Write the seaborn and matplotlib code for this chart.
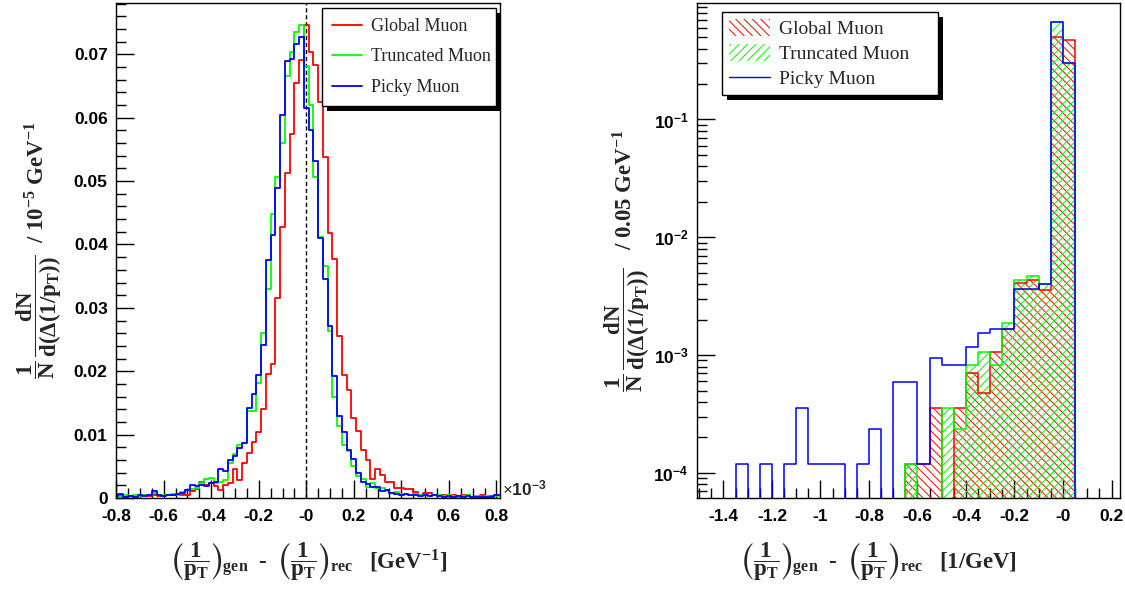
import numpy as np
import pandas as pd
import matplotlib
matplotlib.use("Agg")
import matplotlib.pyplot as plt
import seaborn as sns
from matplotlib.lines import Line2D
from matplotlib.patches import Patch, Rectangle
from matplotlib.transforms import IdentityTransform
from matplotlib.ticker import FixedLocator, FixedFormatter, MultipleLocator, LogLocator, NullFormatter

# ---------------------------------------------------------------- data
# Left: resolution in units of 1e-3 GeV^-1, bins of 0.02 centred on -0.80 ... 0.80
left_edges = list(np.round(np.linspace(-0.81, 0.81, 82), 4))
left_centers = 0.5 * (np.array(left_edges[:-1]) + np.array(left_edges[1:]))

global_left = [
    0.0002, 0.0003, 0.0002, 0.0003, 0.0002, 0.0003, 0.0004, 0.0003, 0.0004, 0.0003,
    0.0004, 0.0004, 0.0005, 0.0006, 0.0004, 0.0005, 0.0011, 0.0014, 0.0026, 0.0021,
    0.0024, 0.0019, 0.0012, 0.0021, 0.0024, 0.0045, 0.0029, 0.0055, 0.0071, 0.0089,
    0.0104, 0.0140, 0.0195, 0.0211, 0.0315, 0.0428, 0.0512, 0.0575, 0.0654, 0.0691,
    0.0746,
    0.0703, 0.0683, 0.0625, 0.0538, 0.0418, 0.0377, 0.0256, 0.0194, 0.0170, 0.0126,
    0.0105, 0.0075, 0.0060, 0.0030, 0.0045, 0.0037, 0.0026, 0.0025, 0.0016, 0.0016,
    0.0014, 0.0014, 0.0009, 0.0005, 0.0008, 0.0008, 0.0004, 0.0005, 0.0004, 0.0003,
    0.0004, 0.0003, 0.0005, 0.0004, 0.0002, 0.0003, 0.0004, 0.0002, 0.0003, 0.0004,
]
truncated_left = [
    0.0003, 0.0002, 0.0004, 0.0003, 0.0004, 0.0003, 0.0005, 0.0004, 0.0008, 0.0004,
    0.0005, 0.0004, 0.0006, 0.0005, 0.0009, 0.0012, 0.0014, 0.0016, 0.0024, 0.0030,
    0.0032, 0.0024, 0.0026, 0.0029, 0.0055, 0.0070, 0.0084, 0.0087, 0.0138, 0.0138,
    0.0181, 0.0261, 0.0330, 0.0448, 0.0507, 0.0560, 0.0666, 0.0704, 0.0735, 0.0747,
    0.0682,
    0.0620, 0.0506, 0.0412, 0.0366, 0.0264, 0.0160, 0.0113, 0.0083, 0.0074, 0.0050,
    0.0034, 0.0030, 0.0018, 0.0023, 0.0016, 0.0015, 0.0011, 0.0008, 0.0009, 0.0006,
    0.0006, 0.0005, 0.0006, 0.0004, 0.0005, 0.0003, 0.0004, 0.0004, 0.0003, 0.0004,
    0.0003, 0.0002, 0.0003, 0.0004, 0.0002, 0.0003, 0.0002, 0.0003, 0.0002, 0.0003,
]
picky_left = [
    0.0003, 0.0006, 0.0002, 0.0003, 0.0002, 0.0004, 0.0003, 0.0004, 0.0011, 0.0004,
    0.0003, 0.0005, 0.0004, 0.0006, 0.0008, 0.0012, 0.0021, 0.0019, 0.0021, 0.0019,
    0.0024, 0.0025, 0.0045, 0.0042, 0.0060, 0.0067, 0.0079, 0.0087, 0.0142, 0.0164,
    0.0194, 0.0242, 0.0376, 0.0415, 0.0489, 0.0604, 0.0690, 0.0692, 0.0717, 0.0728,
    0.0615,
    0.0581, 0.0531, 0.0411, 0.0345, 0.0272, 0.0193, 0.0130, 0.0104, 0.0075, 0.0061,
    0.0039, 0.0025, 0.0022, 0.0017, 0.0017, 0.0011, 0.0012, 0.0008, 0.0007, 0.0005,
    0.0006, 0.0004, 0.0005, 0.0003, 0.0004, 0.0003, 0.0004, 0.0003, 0.0002, 0.0003,
    0.0002, 0.0003, 0.0002, 0.0003, 0.0002, 0.0002, 0.0001, 0.0002, 0.0001, 0.0004,
]

# Right: resolution in GeV^-1, bins of 0.05 from -1.50 to 0.25
right_edges = list(np.round(np.linspace(-1.5, 0.25, 36), 4))
right_centers = 0.5 * (np.array(right_edges[:-1]) + np.array(right_edges[1:]))

global_right = [
    0, 0, 0, 0, 0, 0, 0, 0, 0, 0,
    0, 0, 0, 0, 0, 0, 0, 1.18e-4, 1.18e-4, 3.54e-4,
    0, 3.54e-4, 7.08e-4, 4.72e-4, 1.06e-3, 1.65e-3, 4.13e-3, 4.37e-3, 3.54e-3, 0.500,
    0.469, 0, 0, 0, 0,
]
truncated_right = [
    0, 0, 0, 0, 0, 0, 0, 0, 0, 0,
    0, 0, 0, 0, 0, 0, 0, 1.18e-4, 0, 0,
    3.54e-4, 2.36e-4, 8.26e-4, 1.06e-3, 8.26e-4, 1.89e-3, 4.37e-3, 4.72e-3, 4.01e-3, 0.671,
    0.300, 0, 0, 0, 0,
]
picky_right = [
    0, 0, 0, 1.18e-4, 0, 1.18e-4, 0, 1.18e-4, 3.54e-4, 1.18e-4,
    1.18e-4, 1.18e-4, 0, 1.18e-4, 2.36e-4, 0, 5.90e-4, 5.90e-4, 1.18e-4, 9.44e-4,
    8.26e-4, 8.26e-4, 1.18e-3, 1.53e-3, 1.65e-3, 1.65e-3, 3.66e-3, 3.66e-3, 4.01e-3, 0.671,
    0.300, 0, 0, 0, 0,
]

series_names = ["Global Muon", "Truncated Muon", "Picky Muon"]

left_xticks = [-0.8, -0.6, -0.4, -0.2, 0.0, 0.2, 0.4, 0.6, 0.8]
left_xticklabels = ["-0.8", "-0.6", "-0.4", "-0.2", "-0", "0.2", "0.4", "0.6", "0.8"]
left_yticks = [0.0, 0.01, 0.02, 0.03, 0.04, 0.05, 0.06, 0.07]
left_yticklabels = ["0", "0.01", "0.02", "0.03", "0.04", "0.05", "0.06", "0.07"]
right_xticks = [-1.4, -1.2, -1.0, -0.8, -0.6, -0.4, -0.2, 0.0, 0.2]
right_xticklabels = ["-1.4", "-1.2", "-1", "-0.8", "-0.6", "-0.4", "-0.2", "-0", "0.2"]
right_yticks = [1e-4, 1e-3, 1e-2, 1e-1]
right_yticklabels = [r"$\mathsf{10^{-4}}$", r"$\mathsf{10^{-3}}$",
                     r"$\mathsf{10^{-2}}$", r"$\mathsf{10^{-1}}$"]

# ---------------------------------------------------------------- style
RED, GREEN, BLUE = "#ff0000", "#00ff00", "#0000ff"
colors = [RED, GREEN, BLUE]

sns.set_theme(style="ticks")
plt.rcParams.update({
    "font.family": ["Liberation Sans", "DejaVu Sans"],
    "font.weight": "bold",
    "mathtext.fontset": "custom",
    "mathtext.rm": "Liberation Serif:bold",
    "mathtext.it": "Liberation Serif:bold",
    "mathtext.bf": "Liberation Serif:bold",
    "mathtext.sf": "Liberation Sans:bold",
    "mathtext.fallback": "stix",
    "mathtext.default": "rm",
    "hatch.linewidth": 0.7,
    "axes.edgecolor": "black",
    "axes.linewidth": 1.0,
})

TICK_FONT = dict(family="Liberation Sans", weight="bold", size=12.5)
TITLE_FONT = dict(family="Liberation Serif", weight="bold", size=16.5)
LEGEND_FONT_L = dict(family="Liberation Serif", weight="normal", size=13)
LEGEND_FONT_R = dict(family="Liberation Serif", weight="normal", size=14)

W, H = 1125, 597
fig = plt.figure(figsize=(W / 100, H / 100), dpi=100)
fig.patch.set_facecolor("white")
axL = fig.add_axes([116 / W, 1 - 498 / H, 384 / W, 495 / H])
axR = fig.add_axes([697 / W, 1 - 498 / H, 423 / W, 495 / H])


def style_ticks(ax):
    ax.tick_params(which="both", direction="in", top=False, right=False,
                   colors="black", width=1.0)
    ax.tick_params(which="major", length=13)
    ax.tick_params(which="minor", length=7)
    ax.tick_params(axis="x", which="major", pad=8)
    ax.tick_params(axis="y", which="major", pad=6)
    for lab in ax.get_xticklabels() + ax.get_yticklabels():
        lab.set(**TICK_FONT)
    for sp in ax.spines.values():
        sp.set_color("black")
        sp.set_linewidth(1.0)


def add_shadow(ax, leg, offset=5):
    fig.canvas.draw()
    bb = leg.get_window_extent()
    ax.add_patch(Rectangle((bb.x0 + offset, bb.y0 - offset), bb.width, bb.height,
                           transform=IdentityTransform(), facecolor="black",
                           edgecolor="none", zorder=4.5, clip_on=False))


def hist_frame(centers, values):
    return pd.DataFrame({"x": centers, "w": values})


# ---------------------------------------------------------------- left panel
for vals, col in zip([global_left, truncated_left, picky_left], colors):
    sns.histplot(data=hist_frame(left_centers, vals), x="x", weights="w",
                 bins=left_edges, element="step", fill=False, color=col,
                 linewidth=1.3, ax=axL)
axL.axvline(0.0, color="black", linestyle=(0, (3, 2)), linewidth=1.0, zorder=1)

axL.set_xlim(-0.8005, 0.815)
axL.set_ylim(0.0, 0.0781)
axL.xaxis.set_major_locator(FixedLocator(left_xticks))
axL.xaxis.set_major_formatter(FixedFormatter(left_xticklabels))
axL.xaxis.set_minor_locator(MultipleLocator(0.05))
axL.yaxis.set_major_locator(FixedLocator(left_yticks))
axL.yaxis.set_major_formatter(FixedFormatter(left_yticklabels))
axL.yaxis.set_minor_locator(MultipleLocator(0.002))
axL.set_xlabel("")
axL.set_ylabel("")
style_ticks(axL)

axL.text(1.006, 0.02, r"$\times\mathsf{10^{-3}}$", transform=axL.transAxes,
         ha="left", va="center", **TICK_FONT)

axL.text(-0.2, 0.5,
         r"$\dfrac{1}{N}\,\dfrac{dN}{d(\Delta(1/p_{T}))}$  / 10$^{-5}$ GeV$^{-1}$",
         transform=axL.transAxes, rotation=90, ha="center", va="center", **TITLE_FONT)
axL.text(0.503, -0.129,
         r"$\left(\dfrac{1}{p_{T}}\right)_{gen}$  -  $\left(\dfrac{1}{p_{T}}\right)_{rec}$   [GeV$^{-1}$]",
         transform=axL.transAxes, ha="center", va="center", **TITLE_FONT)

left_handles = [Line2D([], [], color=c, linewidth=1.3) for c in colors]
legL = axL.legend(left_handles, series_names, loc="upper left",
                  bbox_to_anchor=(0.536, 0.0, 0.454, 0.99), mode="expand",
                  frameon=True, fancybox=False,
                  edgecolor="black", framealpha=1.0, prop=LEGEND_FONT_L,
                  handlelength=1.7, handletextpad=0.5, labelspacing=0.75,
                  borderpad=0.55, borderaxespad=0.0)
legL.get_frame().set_linewidth(1.0)
legL.set_zorder(5)

# ---------------------------------------------------------------- right panel
axR.set_yscale("log")
for vals, col, hatch in [(global_right, RED, r"\\\\"), (truncated_right, GREEN, "////")]:
    n_before = len(axR.collections)
    sns.histplot(data=hist_frame(right_centers, vals), x="x", weights="w",
                 bins=right_edges, element="step", fill=True, color=col, ax=axR)
    for poly in axR.collections[n_before:]:
        poly.set_facecolor("none")
        poly.set_edgecolor(col)
        poly.set_linewidth(0)
        poly.set_hatch(hatch)
for vals, col in zip([global_right, truncated_right, picky_right], colors):
    sns.histplot(data=hist_frame(right_centers, vals), x="x", weights="w",
                 bins=right_edges, element="step", fill=False, color=col,
                 linewidth=1.1, ax=axR)

axR.set_xlim(-1.509, 0.235)
axR.set_ylim(6.12e-5, 0.975)
axR.xaxis.set_major_locator(FixedLocator(right_xticks))
axR.xaxis.set_major_formatter(FixedFormatter(right_xticklabels))
axR.xaxis.set_minor_locator(MultipleLocator(0.05))
axR.yaxis.set_major_locator(FixedLocator(right_yticks))
axR.yaxis.set_major_formatter(FixedFormatter(right_yticklabels))
axR.yaxis.set_minor_locator(LogLocator(base=10, subs=np.arange(2, 10), numticks=20))
axR.yaxis.set_minor_formatter(NullFormatter())
axR.set_xlabel("")
axR.set_ylabel("")
style_ticks(axR)

axR.text(-0.165, 0.48,
         r"$\dfrac{1}{N}\,\dfrac{dN}{d(\Delta(1/p_{T}))}$   / 0.05 GeV$^{-1}$",
         transform=axR.transAxes, rotation=90, ha="center", va="center", **TITLE_FONT)
axR.text(0.43, -0.129,
         r"$\left(\dfrac{1}{p_{T}}\right)_{gen}$  -  $\left(\dfrac{1}{p_{T}}\right)_{rec}$   [1/GeV]",
         transform=axR.transAxes, ha="center", va="center", **TITLE_FONT)

right_handles = [
    Patch(facecolor="none", edgecolor=RED, hatch=r"\\\\", linewidth=0),
    Patch(facecolor="none", edgecolor=GREEN, hatch="////", linewidth=0),
    Line2D([], [], color=BLUE, linewidth=1.0),
]
legR = axR.legend(right_handles, series_names, loc="upper left",
                  bbox_to_anchor=(0.059, 0.0, 0.511, 0.982), mode="expand",
                  frameon=True, fancybox=False,
                  edgecolor="black", framealpha=1.0, prop=LEGEND_FONT_R,
                  handlelength=2.1, handleheight=1.0, handletextpad=0.5,
                  labelspacing=0.3, borderpad=0.35, borderaxespad=0.0)
legR.get_frame().set_linewidth(1.0)
legR.set_zorder(5)

add_shadow(axL, legL)
add_shadow(axR, legR)

fig.savefig("out.png", dpi=100, facecolor="white")
